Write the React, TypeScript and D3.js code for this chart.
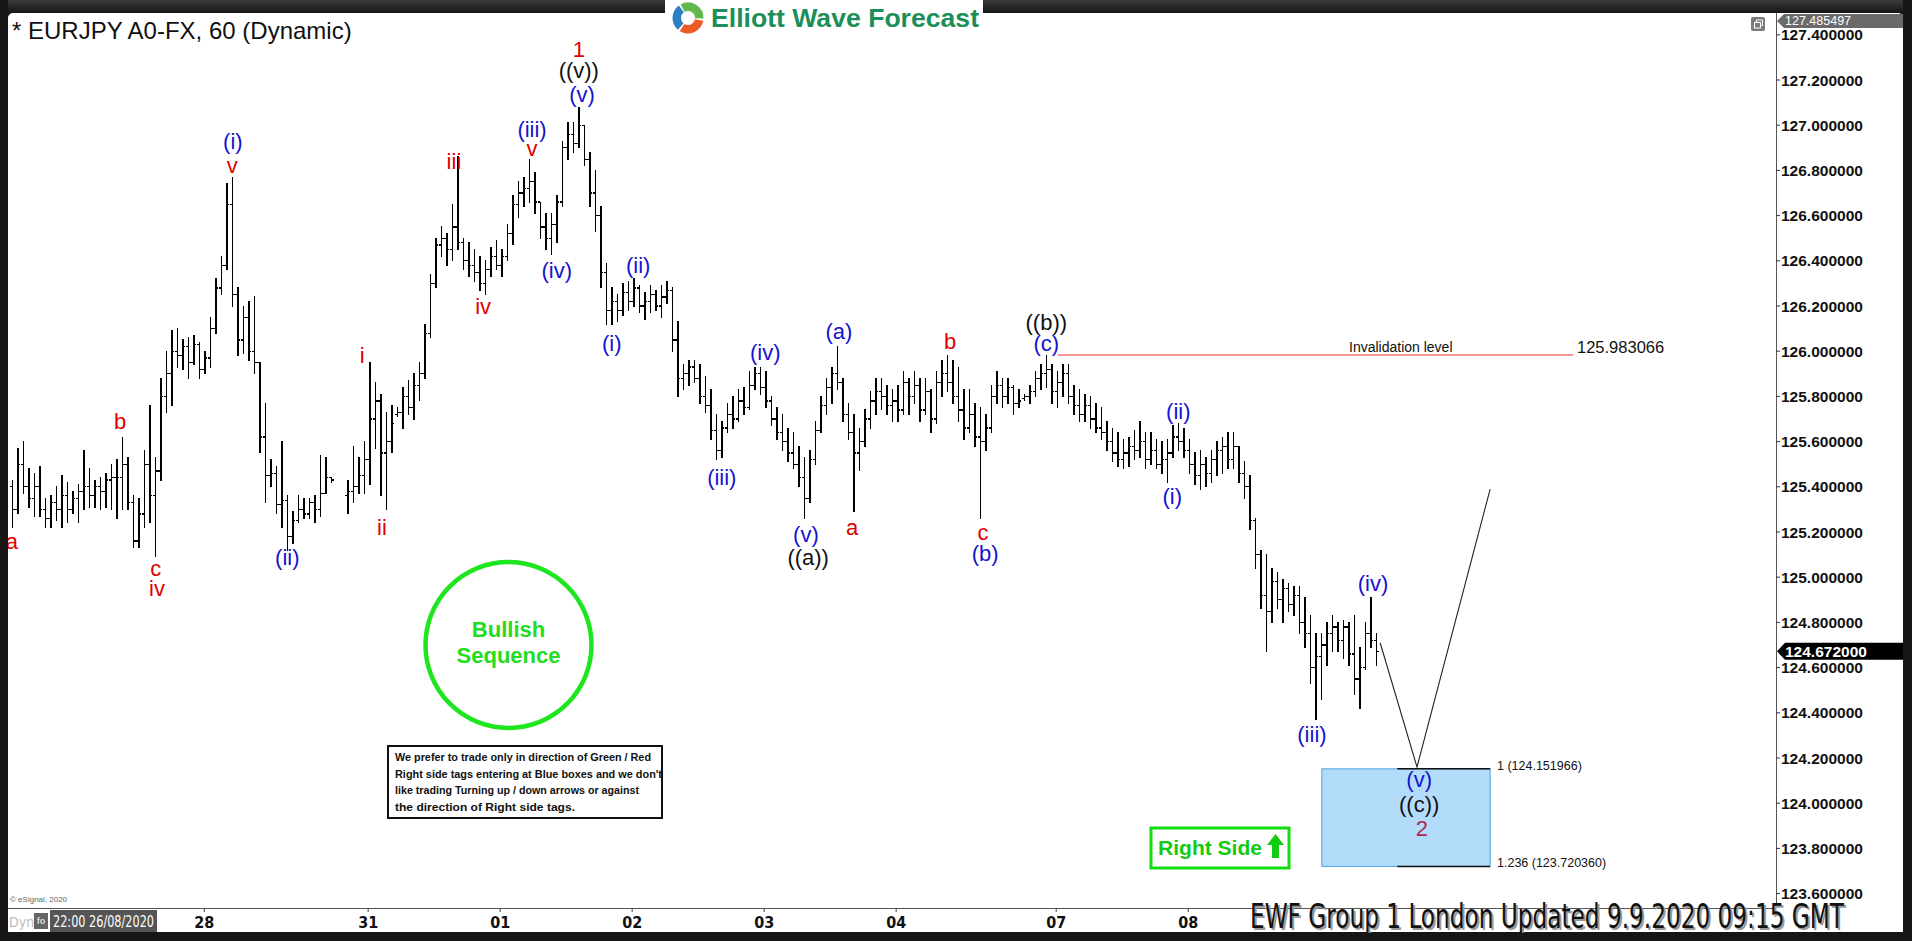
import React from 'react';
import * as d3 from 'd3';

type Bar = [number, number, number, number] | null; // open, high, low, close

const bars: Bar[] = [
  [125.40,125.43,125.22,125.30],[125.30,125.57,125.28,125.50],[125.50,125.60,125.37,125.40],[125.40,125.48,125.31,125.35],[125.35,125.46,125.27,125.40],
  [125.40,125.49,125.27,125.30],[125.30,125.35,125.22,125.26],[125.26,125.36,125.22,125.33],[125.33,125.40,125.25,125.30],[125.30,125.45,125.22,125.36],
  [125.36,125.42,125.24,125.30],[125.30,125.38,125.28,125.35],[125.35,125.41,125.24,125.38],[125.38,125.56,125.30,125.40],[125.40,125.48,125.31,125.36],
  [125.36,125.43,125.31,125.40],[125.40,125.44,125.30,125.38],[125.38,125.46,125.31,125.43],[125.43,125.50,125.30,125.44],[125.44,125.52,125.26,125.44],
  [125.44,125.62,125.30,125.50],[125.50,125.53,125.30,125.33],[125.33,125.36,125.13,125.16],[125.16,125.35,125.13,125.28],[125.28,125.56,125.22,125.50],
  [125.50,125.76,125.24,125.36],[125.36,125.53,125.09,125.47],[125.47,125.88,125.43,125.80],[125.80,126.00,125.73,125.90],[125.90,126.09,125.76,126.00],
  [126.00,126.10,125.93,125.98],[125.98,126.05,125.92,126.02],[126.02,126.06,125.88,125.95],[125.95,126.07,125.94,126.03],[126.03,126.04,125.88,125.92],
  [125.92,126.00,125.90,125.97],[125.97,126.15,125.93,126.10],[126.10,126.32,126.08,126.28],[126.28,126.42,126.25,126.38],[126.38,126.74,126.36,126.65],
  [126.65,126.77,126.20,126.25],[126.25,126.28,125.98,126.05],[126.05,126.20,125.99,126.15],[126.15,126.22,125.96,126.00],[126.00,126.24,125.90,125.95],
  [125.95,125.95,125.55,125.62],[125.62,125.77,125.33,125.45],[125.45,125.52,125.40,125.46],[125.46,125.49,125.28,125.32],[125.32,125.60,125.22,125.34],
  [125.34,125.36,125.12,125.18],[125.18,125.29,125.15,125.25],[125.25,125.36,125.24,125.30],[125.30,125.35,125.26,125.28],[125.28,125.35,125.26,125.33],
  [125.33,125.36,125.24,125.30],[125.30,125.54,125.27,125.37],[125.37,125.53,125.37,125.44],[125.44,125.44,125.42,125.43],null,
  null,[125.36,125.43,125.28,125.38],[125.38,125.58,125.33,125.40],[125.40,125.53,125.37,125.45],[125.45,125.60,125.37,125.52],
  [125.52,125.95,125.41,125.70],[125.70,125.86,125.57,125.78],[125.78,125.81,125.36,125.55],[125.55,125.73,125.30,125.60],[125.60,125.76,125.55,125.68],
  [125.72,125.75,125.71,125.73],[125.73,125.84,125.66,125.80],[125.80,125.87,125.72,125.75],[125.75,125.90,125.70,125.85],[125.85,125.95,125.78,125.90],
  [125.90,126.12,125.88,126.08],[126.08,126.34,126.06,126.30],[126.30,126.50,126.28,126.47],[126.47,126.55,126.42,126.50],[126.50,126.52,126.38,126.45],
  [126.45,126.65,126.40,126.55],[126.55,126.86,126.45,126.48],[126.48,126.50,126.36,126.40],[126.40,126.48,126.33,126.38],[126.38,126.45,126.31,126.35],
  [126.35,126.42,126.27,126.30],[126.30,126.40,126.25,126.36],[126.36,126.46,126.33,126.42],[126.42,126.49,126.36,126.38],[126.38,126.45,126.33,126.42],
  [126.42,126.56,126.40,126.52],[126.52,126.69,126.47,126.65],[126.65,126.75,126.59,126.70],[126.70,126.77,126.64,126.72],[126.72,126.85,126.66,126.75],
  [126.75,126.79,126.61,126.66],[126.66,126.66,126.50,126.55],[126.55,126.61,126.45,126.50],[126.50,126.61,126.43,126.56],[126.56,126.69,126.48,126.66],
  [126.66,126.93,126.64,126.90],[126.90,127.01,126.85,126.96],[126.96,127.01,126.88,126.92],[126.92,127.08,126.90,127.00],[127.00,127.00,126.82,126.85],
  [126.85,126.88,126.64,126.70],[126.70,126.80,126.53,126.60],[126.60,126.64,126.28,126.35],[126.35,126.39,126.12,126.18],[126.18,126.28,126.12,126.22],
  [126.22,126.25,126.13,126.18],[126.18,126.30,126.16,126.26],[126.26,126.31,126.18,126.22],[126.22,126.32,126.20,126.28],[126.28,126.29,126.17,126.20],
  [126.20,126.26,126.14,126.22],[126.22,126.29,126.17,126.25],[126.25,126.27,126.18,126.20],[126.20,126.29,126.15,126.24],[126.24,126.31,126.21,126.27],
  [126.27,126.28,126.00,126.05],[126.05,126.13,125.80,125.88],[125.88,125.94,125.83,125.90],[125.90,125.96,125.85,125.93],[125.93,125.96,125.86,125.88],
  [125.88,125.94,125.77,125.80],[125.80,125.89,125.73,125.76],[125.76,125.83,125.61,125.65],[125.65,125.72,125.52,125.56],[125.56,125.69,125.53,125.66],
  [125.66,125.77,125.64,125.72],[125.72,125.80,125.66,125.70],[125.70,125.83,125.69,125.78],[125.78,125.84,125.72,125.75],[125.75,125.91,125.74,125.85],
  [125.85,125.93,125.83,125.90],[125.90,125.93,125.81,125.84],[125.84,125.91,125.75,125.78],[125.78,125.80,125.67,125.70],[125.70,125.75,125.61,125.64],
  [125.64,125.72,125.56,125.60],[125.60,125.66,125.51,125.55],[125.55,125.64,125.48,125.50],[125.50,125.58,125.40,125.44],[125.44,125.53,125.26,125.35],
  [125.35,125.56,125.33,125.52],[125.52,125.69,125.50,125.65],[125.65,125.80,125.64,125.76],[125.76,125.88,125.72,125.84],[125.84,125.93,125.77,125.90],
  [125.90,126.02,125.83,125.86],[125.86,125.88,125.69,125.72],[125.72,125.77,125.61,125.64],[125.64,125.72,125.29,125.55],[125.55,125.66,125.47,125.60],
  [125.60,125.74,125.58,125.70],[125.70,125.82,125.66,125.78],[125.78,125.88,125.72,125.82],[125.82,125.88,125.74,125.80],[125.80,125.85,125.72,125.76],
  [125.76,125.83,125.69,125.78],[125.78,125.85,125.69,125.74],[125.74,125.91,125.72,125.86],[125.86,125.88,125.72,125.80],[125.80,125.91,125.77,125.85],
  [125.85,125.88,125.69,125.74],[125.74,125.88,125.72,125.82],[125.82,125.83,125.64,125.70],[125.70,125.91,125.68,125.86],[125.86,125.96,125.80,125.90],
  [125.90,125.98,125.82,125.86],[125.86,125.96,125.77,125.80],[125.80,125.93,125.69,125.74],[125.74,125.83,125.61,125.66],[125.66,125.83,125.64,125.72],
  [125.72,125.77,125.58,125.62],[125.62,125.75,125.26,125.60],[125.60,125.72,125.56,125.66],[125.66,125.85,125.64,125.80],[125.80,125.91,125.77,125.85],
  [125.85,125.88,125.75,125.80],[125.80,125.88,125.77,125.84],[125.84,125.85,125.72,125.77],[125.77,125.83,125.75,125.78],[125.79,125.81,125.78,125.80],
  [125.80,125.85,125.77,125.82],[125.82,125.91,125.80,125.88],[125.88,125.94,125.83,125.90],[125.90,125.98,125.84,125.92],[125.92,125.94,125.77,125.82],
  [125.82,125.91,125.75,125.86],[125.86,125.94,125.80,125.90],[125.90,125.94,125.77,125.80],[125.80,125.85,125.72,125.76],[125.76,125.83,125.69,125.72],
  [125.72,125.81,125.69,125.76],[125.76,125.80,125.66,125.70],[125.70,125.77,125.64,125.66],[125.66,125.75,125.61,125.64],[125.64,125.69,125.56,125.60],
  [125.60,125.66,125.51,125.55],[125.55,125.64,125.49,125.52],[125.52,125.61,125.48,125.55],[125.55,125.62,125.49,125.58],[125.58,125.65,125.52,125.56],
  [125.56,125.69,125.53,125.60],[125.60,125.64,125.48,125.52],[125.52,125.64,125.50,125.56],[125.56,125.61,125.48,125.50],[125.50,125.60,125.46,125.52],
  [125.52,125.61,125.42,125.55],[125.55,125.67,125.53,125.62],[125.62,125.68,125.56,125.60],[125.60,125.66,125.53,125.56],[125.56,125.61,125.46,125.50],
  [125.50,125.55,125.41,125.45],[125.45,125.56,125.39,125.50],[125.50,125.53,125.40,125.46],[125.46,125.56,125.42,125.52],[125.52,125.60,125.45,125.56],
  [125.56,125.62,125.46,125.58],[125.58,125.64,125.48,125.52],[125.52,125.64,125.48,125.58],[125.58,125.58,125.42,125.46],[125.46,125.51,125.35,125.40],
  [125.40,125.45,125.21,125.25],[125.25,125.26,125.04,125.10],[125.10,125.12,124.86,124.92],[124.92,125.10,124.67,124.85],[124.85,125.04,124.80,124.98],
  [124.98,125.02,124.86,124.90],[124.90,124.99,124.80,124.95],[124.95,124.97,124.85,124.88],[124.88,124.96,124.83,124.92],[124.92,124.96,124.75,124.80],
  [124.80,124.91,124.69,124.75],[124.75,124.83,124.53,124.60],[124.60,124.75,124.37,124.65],[124.65,124.75,124.46,124.70],[124.70,124.80,124.61,124.75],
  [124.75,124.83,124.67,124.78],[124.78,124.80,124.67,124.72],[124.72,124.81,124.64,124.78],[124.78,124.80,124.61,124.66],[124.66,124.83,124.48,124.55],
  [124.55,124.69,124.42,124.60],[124.60,124.80,124.59,124.75],[124.75,124.91,124.69,124.72],[124.72,124.75,124.61,124.67],
];

const yTicks = [127.4, 127.2, 127.0, 126.8, 126.6, 126.4, 126.2, 126.0, 125.8, 125.6, 125.4, 125.2, 125.0, 124.8, 124.6, 124.4, 124.2, 124.0, 123.8, 123.6];
const dayLabels = ['28', '31', '01', '02', '03', '04', '07', '08'];
const dayPositions = [34.9, 64.7, 88.7, 112.7, 136.7, 160.7, 189.8, 213.8];

const R = '#e00000', B = '#1414cc', K = '#111111', M = '#b0284e';
// text, bar index, price (label centre), colour
const waveLabels: [string, number, number, string][] = [
  ['a', -0.1, 125.16, R], ['b', 19.6, 125.687, R], ['c', 26.1, 125.04, R], ['iv', 26.3, 124.952, R],
  ['(i)', 40.1, 126.93, B], ['v', 40.0, 126.82, R], ['(ii)', 50.0, 125.085, B],
  ['i', 63.6, 125.983, R], ['ii', 67.2, 125.222, R], ['iii', 80.3, 126.84, R], ['iv', 85.6, 126.196, R],
  ['(iii)', 94.5, 126.98, B], ['v', 94.5, 126.895, R], ['(iv)', 99.0, 126.355, B],
  ['1', 103.0, 127.337, R], ['((v))', 103.0, 127.24, K], ['(v)', 103.6, 127.134, B],
  ['(i)', 109.0, 126.032, B], ['(ii)', 113.8, 126.377, B], ['(iii)', 129.0, 125.443, B], ['(iv)', 136.9, 125.996, B],
  ['(v)', 144.3, 125.191, B], ['((a))', 144.7, 125.085, K], ['(a)', 150.3, 126.085, B], ['a', 152.7, 125.222, R],
  ['b', 170.5, 126.045, R], ['c', 176.5, 125.196, R], ['(b)', 176.9, 125.103, B],
  ['((b))', 188.0, 126.129, K], ['(c)', 188.0, 126.032, B],
  ['(i)', 210.9, 125.359, B], ['(ii)', 212.0, 125.735, B], ['(iii)', 236.3, 124.302, B], ['(iv)', 247.4, 124.974, B],
  ['(v)', 255.8, 124.103, B], ['((c))', 255.8, 123.996, K], ['2', 256.3, 123.89, M],
];

const projIdx = [248.7, 255.4, 268.7];
const projVal = [124.71, 124.16, 125.39];

const invalidationLevel = 125.983066;
const invalidationRange = [190.1, 283.8];
const boxLevels = [124.151966, 123.72036];
const boxRange = [238.1, 268.7];
const boxEdgeStart = 251.8;
const lastPrice = 124.672;
const topPrice = 127.485497;

const noteLines = [
  'We prefer to trade only in direction of Green / Red',
  "Right side tags entering at Blue boxes and we don't",
  'like trading Turning up / down arrows or against',
  'the direction of Right side tags.',
];
const noteWidths = [256, 267, 244, 180];

const W = 1912, H = 941;
const plotL = 8, plotR = 1776, plotT = 13, plotB = 908;
const SANS = "'Liberation Sans', Arial, Helvetica, sans-serif";
const NARROW = "'Liberation Sans Narrow', 'DejaVu Sans Condensed', 'Liberation Sans', Arial, sans-serif";

export default function App() {
  const x = d3.scaleLinear().domain([0, 248]).range([12.3, 1376.3]);
  const y = d3.scaleLinear().domain([123.6, 127.2]).range([893.6, 80]);
  const proj = d3.line<number>().x((d, i) => x(projIdx[i])).y((d) => y(d));

  const arc = d3.arc();
  const lc = [688, 18];
  const logoArcs = [
    { s: -0.5, e: 1.6, c: '#62b84a' },
    { s: 1.75, e: 3.7, c: '#ec5a26' },
    { s: 3.85, e: 5.65, c: '#2b7fc3' },
  ];

  const tagY = y(lastPrice);
  const topTagY = Math.max(y(topPrice), plotT + 8);

  return (
    <div style={{ position: 'absolute', left: 0, top: 0, width: W, height: H, overflow: 'hidden' }}>
      <svg width={W} height={H} style={{ display: 'block' }} fontFamily={SANS}>
        <defs>
          <linearGradient id="topbar" x1="0" y1="0" x2="0" y2="1">
            <stop offset="0" stopColor="#3c3c3c" />
            <stop offset="1" stopColor="#0c0c0c" />
          </linearGradient>
          <clipPath id="plotClip">
            <rect x={plotL} y={plotT} width={plotR - plotL} height={plotB - plotT} />
          </clipPath>
        </defs>
        <rect width={W} height={H} fill="#161616" />
        <rect x={0} y={0} width={W} height={16} fill="url(#topbar)" />
        <rect x={plotL} y={plotT} width={1903 - plotL} height={932 - plotT} rx={5} fill="#ffffff" />
        <rect x={plotL} y={plotT + 8} width={1903 - plotL} height={932 - plotT - 8} fill="#ffffff" />

        {/* axes lines */}
        <line x1={plotR + 0.5} x2={plotR + 0.5} y1={plotT} y2={plotB} stroke="#555" strokeWidth={1} />
        <line x1={plotL} x2={plotR} y1={plotB + 0.5} y2={plotB + 0.5} stroke="#555" strokeWidth={1} />

        {/* y ticks */}
        {yTicks.map((t) => (
          <g key={t}>
            <line x1={plotR} x2={plotR + 4} y1={y(t)} y2={y(t)} stroke="#333" />
            <text x={plotR + 5} y={y(t)} dominantBaseline="central" fontSize={15.5} fontWeight="bold" fill="#111">
              {t.toFixed(6)}
            </text>
          </g>
        ))}

        {/* x ticks */}
        {dayLabels.map((d, i) => (
          <g key={d}>
            <line x1={x(dayPositions[i])} x2={x(dayPositions[i])} y1={plotB} y2={plotB + 4} stroke="#444" />
            <text x={x(dayPositions[i])} y={922} textAnchor="middle" dominantBaseline="central" fontSize={16} fontWeight="bold" fontFamily={NARROW} fill="#111">
              {d}
            </text>
          </g>
        ))}

        <g clipPath="url(#plotClip)">
          {/* blue box */}
          <rect x={x(boxRange[0])} y={y(boxLevels[0])} width={x(boxRange[1]) - x(boxRange[0])} height={y(boxLevels[1]) - y(boxLevels[0])} fill="#b3dcfa" stroke="#4aa3e0" strokeWidth={1} />
          <line x1={x(boxEdgeStart)} x2={x(boxRange[1])} y1={y(boxLevels[0])} y2={y(boxLevels[0])} stroke="#111" strokeWidth={1.5} />
          <line x1={x(boxEdgeStart)} x2={x(boxRange[1])} y1={y(boxLevels[1])} y2={y(boxLevels[1])} stroke="#111" strokeWidth={1.5} />

          {/* invalidation line */}
          <line x1={x(invalidationRange[0])} x2={x(invalidationRange[1])} y1={y(invalidationLevel)} y2={y(invalidationLevel)} stroke="#e03030" strokeWidth={1} />

          {/* bars */}
          <g stroke="#000" strokeWidth={1.4} shapeRendering="crispEdges">
            {bars.map((b, i) =>
              b ? (
                <g key={i}>
                  <line x1={x(i)} x2={x(i)} y1={y(b[1]) - 0.5} y2={y(b[2]) + 0.5} />
                  <line x1={x(i) - 2.6} x2={x(i)} y1={y(b[0])} y2={y(b[0])} strokeWidth={1.2} />
                  <line x1={x(i)} x2={x(i) + 2.6} y1={y(b[3])} y2={y(b[3])} strokeWidth={1.2} />
                </g>
              ) : null
            )}
          </g>

          {/* projected path */}
          <path d={proj(projVal) || ''} fill="none" stroke="#222" strokeWidth={1.1} />

          {/* wave labels */}
          {waveLabels.map(([t, i, v, c], k) => (
            <text key={k} x={x(i)} y={y(v)} textAnchor="middle" dominantBaseline="central" fontSize={22} fill={c}>
              {t}
            </text>
          ))}
        </g>

        {/* invalidation labels */}
        <text x={1349} y={y(invalidationLevel) - 3} fontSize={14} fill="#111">Invalidation level</text>
        <text x={1577} y={y(invalidationLevel) - 2} fontSize={16.5} fill="#111">125.983066</text>

        {/* fib labels */}
        <text x={1497} y={y(boxLevels[0]) - 3} dominantBaseline="central" fontSize={12.5} fill="#111">1 (124.151966)</text>
        <text x={1497} y={y(boxLevels[1]) - 3} dominantBaseline="central" fontSize={12.5} fill="#111">1.236 (123.720360)</text>

        {/* Bullish sequence */}
        <circle cx={508.5} cy={645} r={83} fill="none" stroke="#1ee61e" strokeWidth={4.5} />
        <text x={508.5} y={629} textAnchor="middle" dominantBaseline="central" fontSize={22} fontWeight="bold" fill="#22dd22">Bullish</text>
        <text x={508.5} y={655} textAnchor="middle" dominantBaseline="central" fontSize={22} fontWeight="bold" fill="#22dd22">Sequence</text>

        {/* note box */}
        <rect x={388} y={746} width={274} height={72} fill="#fff" stroke="#111" strokeWidth={2} />
        {noteLines.map((l, i) => (
          <text key={i} x={395} y={761 + i * 16.5} fontSize={11.5} fontWeight="bold" fill="#111" textLength={noteWidths[i]} lengthAdjust="spacingAndGlyphs">
            {l}
          </text>
        ))}

        {/* Right side */}
        <rect x={1151} y={828} width={138} height={40} fill="#fff" stroke="#11dd11" strokeWidth={3} />
        <text x={1158} y={855} fontSize={21} fontWeight="bold" fill="#11cc11" textLength={104} lengthAdjust="spacingAndGlyphs">Right Side</text>
        <path d="M1275.5,834 L1284,845 L1279,845 L1279,858 L1272,858 L1272,845 L1267,845 Z" fill="#11cc11" />

        {/* price tags */}
        <path d={`M${plotR + 1},${topTagY} L${plotR + 8},${topTagY - 7} L1903,${topTagY - 7} L1903,${topTagY + 7} L${plotR + 8},${topTagY + 7} Z`} fill="#6a6a6a" />
        <text x={plotR + 9} y={topTagY} dominantBaseline="central" fontSize={12.5} fill="#fff">{topPrice.toFixed(6)}</text>
        <path d={`M${plotR + 1},${tagY} L${plotR + 9},${tagY - 8.5} L1903,${tagY - 8.5} L1903,${tagY + 8.5} L${plotR + 9},${tagY + 8.5} Z`} fill="#000" />
        <text x={plotR + 9} y={tagY} dominantBaseline="central" fontSize={15.5} fontWeight="bold" fill="#fff">{lastPrice.toFixed(6)}</text>

        {/* restore icon */}
        <rect x={1751} y={17} width={14} height={14} rx={2} fill="#7a7a7a" />
        <rect x={1754.5} y={22.5} width={6} height={5.5} fill="none" stroke="#fff" strokeWidth={1} />
        <polyline points="1756.5,22.5 1756.5,20 1762.5,20 1762.5,25.5 1760.5,25.5" fill="none" stroke="#fff" strokeWidth={1} />

        {/* title */}
        <text x={12} y={39} fontSize={24} fill="#111">* EURJPY A0-FX, 60 (Dynamic)</text>

        {/* logo */}
        <rect x={665} y={0} width={318} height={37} fill="#fff" />
        {logoArcs.map((a, i) => (
          <path key={i} transform={`translate(${lc[0]},${lc[1]})`} d={arc({ innerRadius: 7, outerRadius: 15.5, startAngle: a.s, endAngle: a.e } as any) || ''} fill={a.c} />
        ))}
        <text x={711} y={27} fontSize={26} fontWeight="bold" fill="#1a8f5a" textLength={268} lengthAdjust="spacingAndGlyphs">Elliott Wave Forecast</text>

        {/* bottom-left */}
        <text x={10} y={902} fontSize={8} fill="#666">© eSignal, 2020</text>
        <text x={9} y={922} dominantBaseline="central" fontSize={14} fontFamily={NARROW} fill="#bbb">Dyn</text>
        <rect x={34} y={913} width={14} height={16} fill="#666" />
        <text x={41} y={921} textAnchor="middle" dominantBaseline="central" fontSize={9} fontWeight="bold" fill="#ddd">fo</text>
        <rect x={50} y={910} width={107} height={22} fill="#555" />
        <text x={53} y={921.5} dominantBaseline="central" fontSize={15} fontFamily={NARROW} fill="#fff" textLength={101} lengthAdjust="spacingAndGlyphs">22:00 26/08/2020</text>

        {/* bottom-right stamp */}
        <text x={1252} y={930} fontSize={34} fontFamily={NARROW} fill="#9a9a9a" textLength={594} lengthAdjust="spacingAndGlyphs">EWF Group 1 London Updated 9.9.2020 09:15 GMT</text>
        <text x={1250} y={928} fontSize={34} fontFamily={NARROW} fill="#111" textLength={594} lengthAdjust="spacingAndGlyphs">EWF Group 1 London Updated 9.9.2020 09:15 GMT</text>

        {/* outer dark borders */}
        <rect x={0} y={933} width={W} height={H - 933} fill="#161616" />
        <rect x={1903} y={0} width={W - 1903} height={H} fill="#161616" />
        <rect x={0} y={0} width={plotL} height={H} fill="#161616" />
      </svg>
    </div>
  );
}
